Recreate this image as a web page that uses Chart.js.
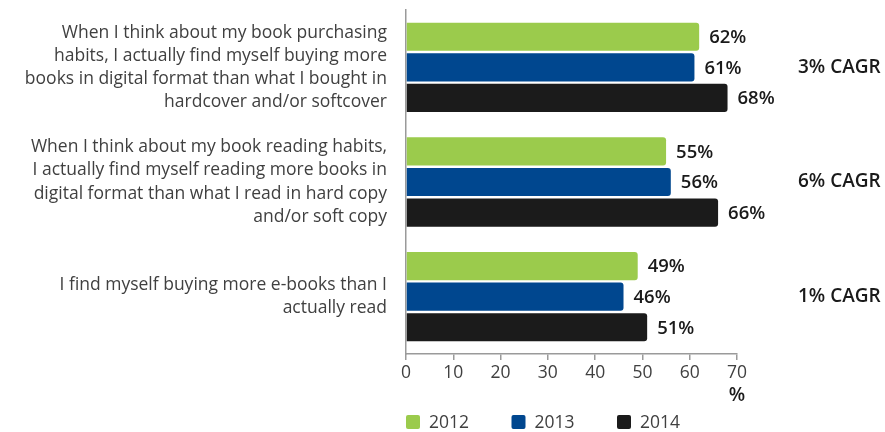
<!DOCTYPE html>
<html>
<head>
<meta charset="utf-8">
<script src="https://cdn.jsdelivr.net/npm/chart.js@4.4.1/dist/chart.umd.min.js"></script>
<style>
  html, body { margin: 0; padding: 0; background: #fff; }
  #wrap { width: 885px; height: 432px; position: relative; }
</style>
</head>
<body>
<div id="wrap"><canvas id="chartLibros"></canvas></div>
<script>
// datos de la encuesta
const categorias = [
    ['When I think about my book purchasing', 'habits, I actually find myself buying more', 'books in digital format than what I bought in', 'hardcover and/or softcover'],
    ['When I think about my book reading habits,', 'I actually find myself reading more books in', 'digital format than what I read in hard copy', 'and/or soft copy'],
    ['I find myself buying more e-books than I', 'actually read']
];
const anios = ['2012', '2013', '2014'];
const valores2012 = [62, 55, 49];
const valores2013 = [61, 56, 46];
const valores2014 = [68, 66, 51];
const cagr = ['3% CAGR', '6% CAGR', '1% CAGR'];
const ticksX = [0, 10, 20, 30, 40, 50, 60, 70];

const colores = ['#9BCB4C', '#00478F', '#1B1B1B'];
const fuente = '"Open Sans", "Noto Sans", sans-serif';

// etiquetas de valor, CAGR, unidad y leyenda
const extras = {
    id: 'extras',
    afterDatasetsDraw(chart) {
        const ctx = chart.ctx;
        const area = chart.chartArea;
        const x = chart.scales.x;
        const y = chart.scales.y;
        ctx.save();

        // porcentaje al final de cada barra
        ctx.font = '600 18.5px ' + fuente;
        ctx.fillStyle = '#1a1a1a';
        ctx.textAlign = 'left';
        ctx.textBaseline = 'middle';
        chart.data.datasets.forEach((ds, i) => {
            chart.getDatasetMeta(i).data.forEach((bar, j) => {
                ctx.fillText(ds.data[j] + '%', bar.x + 10, bar.y + 1);
            });
        });

        // CAGR por grupo
        ctx.font = '600 19px ' + fuente;
        cagr.forEach((t, j) => {
            ctx.fillText(t, 798, y.getPixelForValue(j));
        });

        // unidad bajo el 70
        ctx.textAlign = 'center';
        ctx.font = '600 19px ' + fuente;
        ctx.fillText('%', x.getPixelForValue(70), 396);

        // leyenda
        ctx.font = '17.5px ' + fuente;
        ctx.textAlign = 'left';
        chart.data.datasets.forEach((ds, i) => {
            const lx = area.left + i * 105.5;
            ctx.fillStyle = ds.backgroundColor;
            ctx.beginPath();
            ctx.roundRect(lx, 415, 14, 14, 2);
            ctx.fill();
            ctx.fillStyle = '#404040';
            ctx.fillText(ds.label, lx + 23, 423);
        });
        ctx.restore();
    }
};

const ctxLibros = document.getElementById('chartLibros');
new Chart(ctxLibros, {
    type: 'bar',
    data: {
        labels: categorias,
        datasets: [
            { label: anios[0], data: valores2012, backgroundColor: colores[0] },
            { label: anios[1], data: valores2013, backgroundColor: colores[1] },
            { label: anios[2], data: valores2014, backgroundColor: colores[2] }
        ]
    },
    options: {
        indexAxis: 'y',
        responsive: true,
        maintainAspectRatio: false,
        animation: false,
        layout: { padding: { top: 10, right: 148, bottom: 30, left: 0 } },
        datasets: {
            bar: {
                categoryPercentage: 0.8,
                barPercentage: 0.92,
                borderRadius: 3
            }
        },
        plugins: {
            legend: { display: false },
            tooltip: { enabled: false }
        },
        scales: {
            x: {
                min: 0,
                max: 70,
                afterBuildTicks(scale) {
                    scale.ticks = ticksX.map(v => ({ value: v }));
                },
                afterFit(scale) {
                    scale.height = 48;
                    scale.paddingLeft = 0;
                },
                grid: {
                    drawOnChartArea: false,
                    drawTicks: true,
                    tickLength: 6,
                    color: '#9a9a9a',
                    lineWidth: 1.5
                },
                border: { display: true, color: '#9a9a9a', width: 1.5 },
                ticks: {
                    padding: 3,
                    color: '#404040',
                    font: { family: fuente, size: 17.5 },
                    maxRotation: 0
                }
            },
            y: {
                // ancho fijo y sin relleno extra por las etiquetas de varias líneas
                afterFit(scale) {
                    scale.width = 406;
                    scale.paddingTop = 0;
                    scale.paddingBottom = 0;
                },
                grid: { drawOnChartArea: false, drawTicks: false },
                border: { display: true, color: '#9a9a9a', width: 1.5 },
                ticks: {
                    padding: 19,
                    color: '#404040',
                    font: { family: fuente, size: 17.5, lineHeight: 1.32 }
                }
            }
        }
    },
    plugins: [extras]
});
</script>
</body>
</html>
